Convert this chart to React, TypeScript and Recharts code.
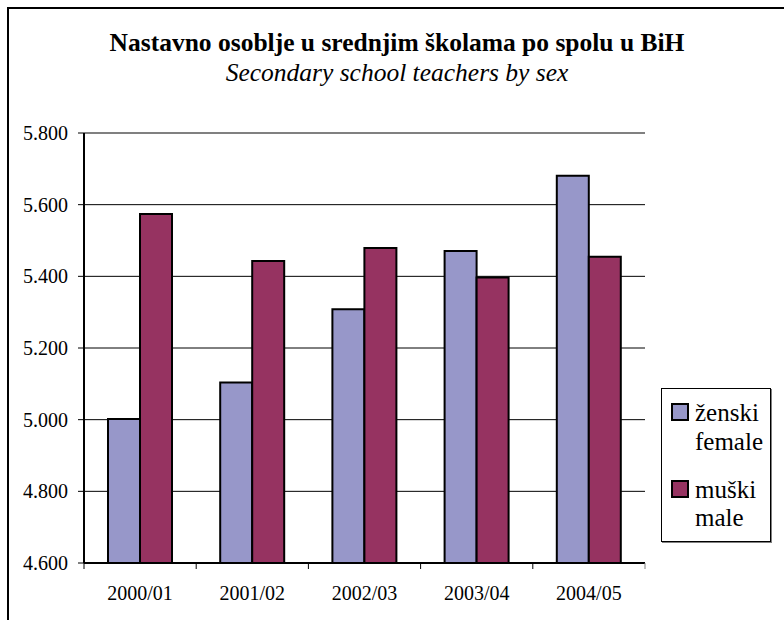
import React from 'react';
import { BarChart, Bar, XAxis, YAxis, CartesianGrid, ReferenceLine, Legend } from 'recharts';

// school years and teacher counts
const years = ['2000/01', '2001/02', '2002/03', '2003/04', '2004/05'];
const female = [5002, 5104, 5308, 5471, 5681];
const male = [5574, 5443, 5479, 5397, 5455];
const yTicks = [4600, 4800, 5000, 5200, 5400, 5600, 5800];

const FEMALE_COLOR = '#9797C9';
const MALE_COLOR = '#963361';
const FONT = '"Liberation Serif", "Times New Roman", serif';

const chartData = years.map((year, i) => ({ year, female: female[i], male: male[i] }));

const formatThousands = (v: number) => {
  const s = String(v);
  return s.slice(0, s.length - 3) + '.' + s.slice(s.length - 3);
};

const XTick = ({ x, y, payload, index }: any) => {
  const half = payload.offset || 56;
  return (
    <g>
      <line x1={x - half} x2={x - half} y1={y} y2={y + 6} stroke="#000" />
      {index === years.length - 1 && (
        <line x1={x + half} x2={x + half} y1={y} y2={y + 6} stroke="#808080" />
      )}
      <text x={x} y={y + 37} textAnchor="middle" fontSize={20} fontFamily={FONT} fill="#000">
        {payload.value}
      </text>
    </g>
  );
};

const legendItems = [
  { color: FEMALE_COLOR, lines: ['ženski', 'female'] },
  { color: MALE_COLOR, lines: ['muški', 'male'] },
];

const renderLegend = () => (
  <div
    style={{
      width: 110,
      height: 154,
      boxSizing: 'border-box',
      border: '1px solid #000',
      boxShadow: '1px 1px 0 #808080',
      background: '#fff',
      padding: '10px 0 0 9px',
      fontFamily: FONT,
      fontSize: 25,
      lineHeight: '28.5px',
      color: '#000',
    }}
  >
    {legendItems.map((item, i) => (
      <div key={i} style={{ display: 'flex', alignItems: 'flex-start', marginBottom: i === 0 ? 19.5 : 0 }}>
        <div
          style={{
            width: 14,
            height: 14,
            marginTop: 4,
            marginRight: 6,
            background: item.color,
            border: '2px solid #000',
            flexShrink: 0,
          }}
        />
        <div>
          {item.lines.map((l) => (
            <div key={l}>{l}</div>
          ))}
        </div>
      </div>
    ))}
  </div>
);

export default function App() {
  return (
    <div style={{ position: 'absolute', left: 0, top: 0, width: 784, height: 620, overflow: 'hidden', background: '#fff' }}>
      <div
        style={{
          position: 'absolute',
          left: 7,
          top: 7,
          width: 900,
          height: 800,
          border: '2px solid #000',
        }}
      />
      <div
        style={{
          position: 'absolute',
          left: 7,
          top: 28,
          width: 780,
          textAlign: 'center',
          fontFamily: FONT,
          color: '#000',
        }}
      >
        <div style={{ fontSize: 25.5, fontWeight: 'bold', lineHeight: '30px' }}>
          Nastavno osoblje u srednjim školama po spolu u BiH
        </div>
        <div style={{ fontSize: 25.5, fontStyle: 'italic', lineHeight: '30px' }}>Secondary school teachers by sex</div>
      </div>
      <div style={{ position: 'absolute', left: 0, top: 0 }}>
        <BarChart
          width={784}
          height={620}
          data={chartData}
          margin={{ top: 133, right: 139, bottom: 27, left: 0 }}
          barCategoryGap={24}
          barGap={0}
        >
          <CartesianGrid vertical={false} stroke="#000" strokeWidth={1} />
          <XAxis
            dataKey="year"
            height={30}
            axisLine={{ stroke: '#000', strokeWidth: 2 }}
            tickLine={false}
            tickSize={0}
            tickMargin={0}
            tick={<XTick />}
            interval={0}
          />
          <YAxis
            width={84}
            domain={[4600, 5800]}
            ticks={yTicks}
            interval={0}
            tickFormatter={formatThousands}
            axisLine={{ stroke: '#000', strokeWidth: 2 }}
            tickLine={{ stroke: '#000' }}
            tickSize={6}
            tickMargin={10}
            tick={{ fontSize: 20, fontFamily: FONT, fill: '#000' }}
          />
          <YAxis
            yAxisId="right"
            orientation="right"
            width={0}
            tick={false}
            tickLine={false}
            axisLine={{ stroke: '#808080', strokeWidth: 2 }}
          />
          <ReferenceLine y={5800} stroke="#808080" strokeWidth={2} />
          <Legend
            layout="horizontal"
            verticalAlign="middle"
            align="center"
            wrapperStyle={{ left: 661, top: 388, width: 110, height: 154 }}
            content={renderLegend}
          />
          <Bar dataKey="female" fill={FEMALE_COLOR} stroke="#000" strokeWidth={2} isAnimationActive={false} />
          <Bar dataKey="male" fill={MALE_COLOR} stroke="#000" strokeWidth={2} isAnimationActive={false} />
        </BarChart>
      </div>
    </div>
  );
}
